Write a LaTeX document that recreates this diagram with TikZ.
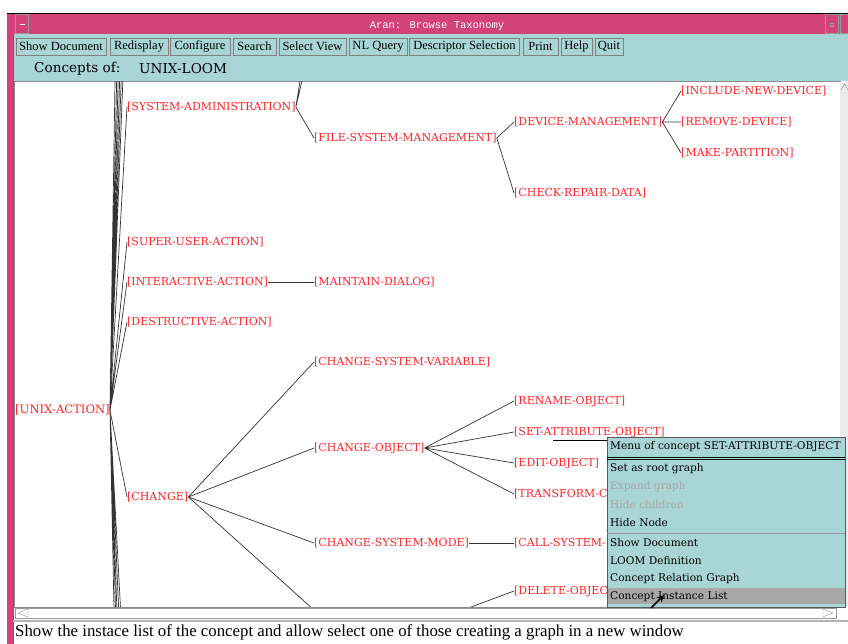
\documentclass[tikz,border=0pt]{standalone}
\usepackage{fontspec}
\setmainfont{DejaVu Serif}
\newfontfamily\uifont{Liberation Serif}
\newfontfamily\titlefont{Liberation Mono}
\usetikzlibrary{arrows.meta}
\definecolor{winpink}{HTML}{D4427A}
\definecolor{panel}{HTML}{A9D5D6}
\definecolor{conred}{HTML}{FF2424}
\definecolor{hilite}{HTML}{A8A8A8}
\tikzset{
  concept/.style={anchor=west,inner sep=0pt,text=conred,font=\fontsize{11}{12}\selectfont},
  edge/.style={draw=black!80,line width=0.7pt},
  btn/.style={draw=black!50,fill=panel,inner sep=0pt,minimum height=17,font=\uifont\fontsize{12.5}{13}\selectfont},
  item/.style={anchor=west,inner sep=0pt,font=\fontsize{10.6}{12}\selectfont},
}
\begin{document}
\begin{tikzpicture}[x=1pt,y=-1pt]
    \useasboundingbox (0,0) rectangle (848,644);
    % window frame and title bar
    \fill[white] (0,0) rectangle (848,644);
    \fill[panel] (13,34) rectangle (848,81);
    \fill[winpink] (7,13) rectangle (848,34);
    \fill[winpink] (7,13) rectangle (13,644);
    \draw[black] (7,13) -- (848,13);
    \draw[black!60] (13,34) -- (13,644);
    \draw[black!40] (15,14) rectangle (28,33);
    \draw[white,line width=1pt] (20,25) -- (25,25);
    \draw[black!40] (825,14) rectangle (838,33);
    \draw[black!40] (830,23) rectangle (833,26);
    \draw[black!40] (840,14) rectangle (850,33);
    \node[text=white,font=\titlefont\fontsize{10.5}{11}\selectfont] (wintitle) at (437,26) {Aran: Browse Taxonomy};
    % tool bar
    \node[btn,minimum width=90] (bshow) at (61,46.5) {Show Document};
    \node[btn,minimum width=58] (bredisp) at (139,46.5) {Redisplay};
    \node[btn,minimum width=60] (bconf) at (200,46.5) {Configure};
    \node[btn,minimum width=43] (bsearch) at (254.5,46.5) {Search};
    \node[btn,minimum width=67] (bview) at (312.5,46.5) {Select View};
    \node[btn,minimum width=58] (bnlq) at (378,46.5) {NL Query};
    \node[btn,minimum width=110] (bdesc) at (464.5,46.5) {Descriptor Selection};
    \node[btn,minimum width=35] (bprint) at (540.5,46.5) {Print};
    \node[btn,minimum width=31] (bhelp) at (576.5,46.5) {Help};
    \node[btn,minimum width=28] (bquit) at (609,46.5) {Quit};
    \node[anchor=west,inner sep=0pt,font=\fontsize{13.6}{14}\selectfont] (conceptsof) at (34,69) {Concepts of:};
    \node[anchor=west,inner sep=0pt,font=\fontsize{13.6}{14}\selectfont] (rootname) at (139,69) {UNIX-LOOM};
    % canvas
    \draw[black!45] (14,81) rectangle (840,607);
    \begin{scope}
    \clip (15,82) rectangle (839,606);
    \node[concept,font=\fontsize{11.6}{12}\selectfont] (unixaction) at (15,410) {[UNIX-ACTION]};
    \node[concept] (sysadmin) at (127,107) {[SYSTEM-ADMINISTRATION]};
    \node[concept] (superuser) at (127,242) {[SUPER-USER-ACTION]};
    \node[concept] (interactive) at (127,282) {[INTERACTIVE-ACTION]};
    \node[concept] (destructive) at (127,322) {[DESTRUCTIVE-ACTION]};
    \node[concept] (change) at (127,497) {[CHANGE]};
    \node[concept] (fsmgmt) at (314,138) {[FILE-SYSTEM-MANAGEMENT]};
    \node[concept] (maintain) at (314,282) {[MAINTAIN-DIALOG]};
    \node[concept] (chsysvar) at (314,362) {[CHANGE-SYSTEM-VARIABLE]};
    \node[concept] (chobject) at (314,448) {[CHANGE-OBJECT]};
    \node[concept] (chsysmode) at (314,543) {[CHANGE-SYSTEM-MODE]};
    \node[concept] (devmgmt) at (514,122) {[DEVICE-MANAGEMENT]};
    \node[concept] (checkrepair) at (514,193) {[CHECK-REPAIR-DATA]};
    \node[concept] (includedev) at (681,91) {[INCLUDE-NEW-DEVICE]};
    \node[concept] (removedev) at (681,122) {[REMOVE-DEVICE]};
    \node[concept] (makepart) at (681,153) {[MAKE-PARTITION]};
    \node[concept] (renameobj) at (514,401) {[RENAME-OBJECT]};
    \node[concept] (setattr) at (514,432) {[SET-ATTRIBUTE-OBJECT]};
    \node[concept] (editobj) at (514,463) {[EDIT-OBJECT]};
    \node[concept] (transformobj) at (514,494) {[TRANSFORM-C};
    \node[concept] (callsys) at (514,543) {[CALL-SYSTEM-};
    \node[concept] (deleteobj) at (514,591) {[DELETE-OBJEC};
    % children lying outside the view
    \coordinate (up1) at (127,-25);
    \coordinate (up2) at (127,-90);
    \coordinate (up3) at (127,-170);
    \coordinate (up4) at (127,-280);
    \coordinate (up5) at (127,-430);
    \coordinate (up6) at (127,-700);
    \coordinate (dn1) at (127,730);
    \coordinate (dn2) at (127,800);
    \coordinate (dn3) at (127,900);
    \coordinate (dn4) at (127,1020);
    \coordinate (dn5) at (127,1250);
    \coordinate (sa1) at (314,30);
    \coordinate (sa2) at (314,-5);
    \coordinate (chlastw) at (314,610);
    \coordinate (chlaste) at (463,610);
    % edges
    \draw[edge] (unixaction.east) -- (sysadmin.west)
                (unixaction.east) -- (superuser.west)
                (unixaction.east) -- (interactive.west)
                (unixaction.east) -- (destructive.west)
                (unixaction.east) -- (change.west);
    \draw[edge] (unixaction.east) -- (up1) (unixaction.east) -- (up2)
                (unixaction.east) -- (up3) (unixaction.east) -- (up4)
                (unixaction.east) -- (up5) (unixaction.east) -- (up6);
    \draw[edge] (unixaction.east) -- (dn1) (unixaction.east) -- (dn2)
                (unixaction.east) -- (dn3) (unixaction.east) -- (dn4)
                (unixaction.east) -- (dn5);
    \draw[edge] (sysadmin.east) -- (sa1) (sysadmin.east) -- (sa2)
                (sysadmin.east) -- (fsmgmt.west);
    \draw[edge] (interactive.east) -- (maintain.west);
    \draw[edge] (change.east) -- (chsysvar.west)
                (change.east) -- (chobject.west)
                (change.east) -- (chsysmode.west)
                (change.east) -- (chlastw);
    \draw[edge] (fsmgmt.east) -- (devmgmt.west)
                (fsmgmt.east) -- (checkrepair.west);
    \draw[edge] (devmgmt.east) -- (includedev.west)
                (devmgmt.east) -- (removedev.west)
                (devmgmt.east) -- (makepart.west);
    \draw[edge] (chobject.east) -- (renameobj.west)
                (chobject.east) -- (setattr.west)
                (chobject.east) -- (editobj.west)
                (chobject.east) -- (transformobj.west);
    \draw[edge] (chsysmode.east) -- (callsys.west);
    \draw[edge] (chlaste) -- (deleteobj.west);
    \draw[black] (553,440) -- (607,440);
    \end{scope}
    % scroll bars
    \fill[black!8] (840,82) rectangle (848,606);
    \draw[black!45] (841,90) -- (844.5,84) -- (848,90);
    \draw[black!40] (15,608) rectangle (836,618);
    \draw[black!40] (28,609) -- (18,613) -- (28,617) -- cycle;
    \draw[black!40] (823,609) -- (833,613) -- (823,617) -- cycle;
    \draw[black!30,line width=1.2pt] (13,621) -- (848,621);
    % popup menu
    \begin{scope}[shift={(607,437)}]
    \fill[panel] (0,0) rectangle (238,170);
    \fill[hilite] (0,151) rectangle (238,167);
    \draw[black!65,line width=0.8pt] (0,0) rectangle (238,170);
    \node[item] (mtitle) at (3,10) {Menu of concept SET-ATTRIBUTE-OBJECT};
    \draw[black] (0,20) -- (238,20) (0,22.5) -- (238,22.5);
    \node[item] (mroot) at (3,32) {Set as root graph};
    \node[item,text=black!35] (mexpand) at (3,50) {Expand graph};
    \node[item,text=black!35] (mhide) at (3,68) {Hide children};
    \node[item] (mhidenode) at (3,86) {Hide Node};
    \draw[black!40] (0,96) -- (238,96);
    \node[item] (mshowdoc) at (3,106) {Show Document};
    \node[item] (mloom) at (3,124) {LOOM Definition};
    \node[item] (mrelgraph) at (3,142) {Concept Relation Graph};
    \node[item] (minstlist) at (3,160) {Concept Instance List};
    \end{scope}
    \draw[-{Stealth[length=7pt,width=7pt]},line width=1.6pt] (651,608) -- (664,595);
    % status line
    \node[anchor=west,inner sep=0pt,font=\uifont\fontsize{16.8}{17}\selectfont] (status) at (15,632) {Show the instace list of the concept and allow select one of those creating a graph in a new window};
\end{tikzpicture}
\end{document}
